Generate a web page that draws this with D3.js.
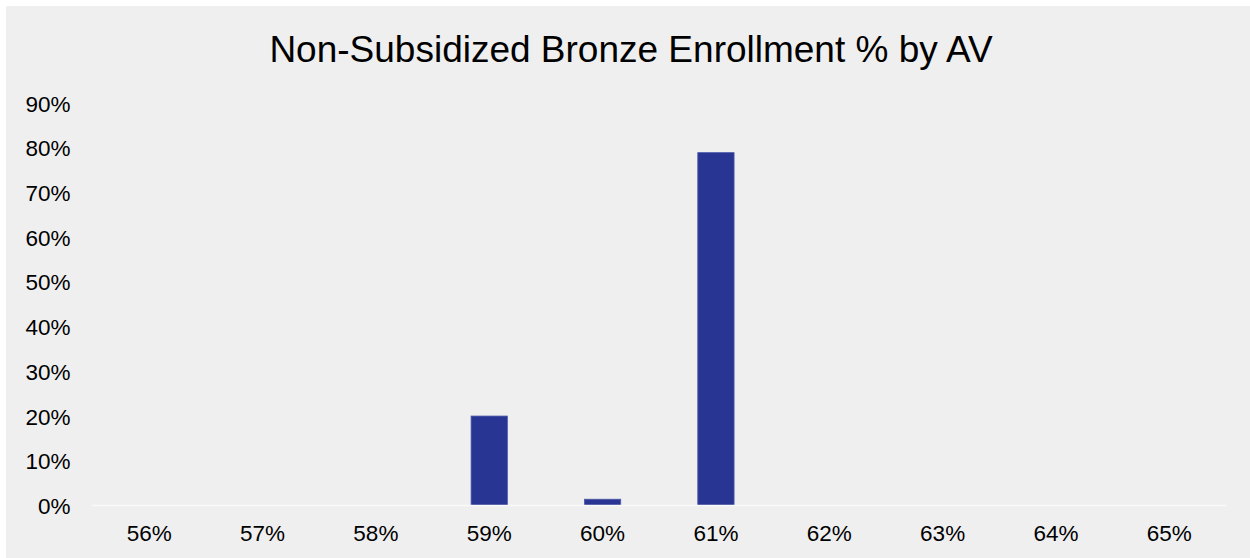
<!DOCTYPE html>
<html>
<head>
<meta charset="utf-8">
<script src="https://cdn.jsdelivr.net/npm/d3@7"></script>
<style>
  body { margin: 0; background: #fff; }
  text { font-family: "Liberation Sans", Arial, sans-serif; fill: #000; }
</style>
</head>
<body>
<script>
// AV buckets and share of enrollment (%)
var categories = ["56%", "57%", "58%", "59%", "60%", "61%", "62%", "63%", "64%", "65%"];
var enrollment = [0, 0, 0, 20, 1.4, 78.9, 0, 0, 0, 0];
var yTicks = [0, 10, 20, 30, 40, 50, 60, 70, 80, 90];
var title = "Non-Subsidized Bronze Enrollment % by AV";

var width = 1250, height = 558;

var svg = d3.select("body").append("svg").attr("width", width).attr("height", height);

// grey panel
svg.append("rect")
  .attr("x", 6).attr("y", 6)
  .attr("width", width - 6).attr("height", height - 6)
  .attr("fill", "#efefef");

svg.append("text")
  .attr("x", 631).attr("y", 61.5)
  .attr("text-anchor", "middle")
  .style("font-size", "37px")
  .text(title);

var x = d3.scaleBand().domain(categories).range([92.5, 1226]).paddingInner(0.68).paddingOuter(0.34);
var y = d3.scaleLinear().domain([0, 90]).range([505.5, 103]);

// y labels
var yAxis = svg.append("g").attr("transform", "translate(70.5,0)")
  .call(d3.axisLeft(y).tickValues(yTicks).tickFormat(function(d) { return d + "%"; }).tickSize(0).tickPadding(0));
yAxis.select(".domain").remove();
yAxis.selectAll("text").style("font-size", "22.5px").attr("dy", "0.36em");

// bars
svg.selectAll("rect.bar")
  .data(enrollment)
  .enter().append("rect")
    .attr("class", "bar")
    .attr("x", function(d, i) { return x(categories[i]); })
    .attr("width", x.bandwidth())
    .attr("y", function(d) { return y(d); })
    .attr("height", function(d) { return y(0) - y(d); })
    .attr("fill", "#283593")
    .attr("stroke", "#4a58a8")
    .attr("stroke-width", 0.8)
    .style("display", function(d) { return d > 0 ? null : "none"; });

// x axis
var xAxis = svg.append("g").attr("transform", "translate(0," + y(0) + ")")
  .call(d3.axisBottom(x).tickSize(0).tickPadding(22));
xAxis.select(".domain").attr("stroke", "#f9f9f9").attr("stroke-width", 1.5)
  .attr("d", "M92.5,0H1226");
xAxis.selectAll("text").style("font-size", "22.5px").attr("dy", "0.36em").attr("y", 27.5);
</script>
</body>
</html>
